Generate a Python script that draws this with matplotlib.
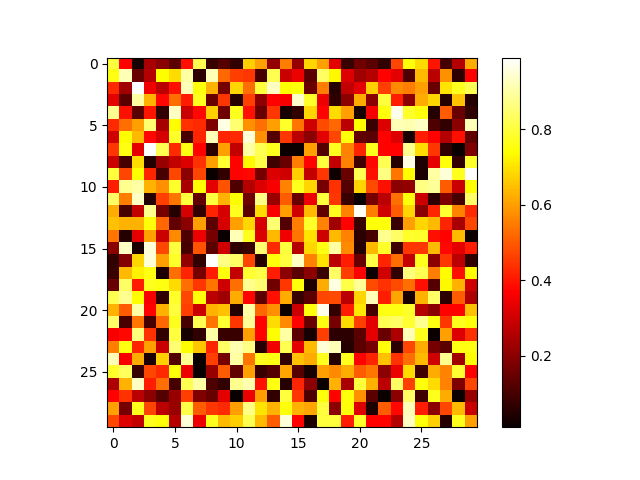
import matplotlib
matplotlib.use("Agg")
import matplotlib.pyplot as plt

# values, row by row
row00 = [.80,.37,.03,.24,.20,.13,.39,.82,.08,.12,.07,.67,.60,.21,.55,.22,.68,.60,.33,.08,.16,.13,.07,.47,.75,.69,.40,.10,.26,.62]
row01 = [.76,.92,.15,.26,.74,.69,.90,.06,.92,.52,.46,.45,.10,.82,.29,.34,.13,.84,.73,.32,.23,.26,.37,.33,.11,.64,.27,.58,.06,.37]
row02 = [.43,.23,.99,.35,.27,.39,.92,.75,.63,.17,.68,.53,.80,.93,.74,.75,.15,.55,.05,.28,.33,.67,.46,.57,.55,.60,.15,.70,.77,.82]
row03 = [.33,.13,.90,.63,.38,.53,.41,.77,.15,.45,.05,.46,.20,.37,.36,.94,.78,.34,.06,.20,.62,.20,.80,.41,.20,.62,.68,.05,.65,.05]
row04 = [.88,.39,.13,.40,.07,.93,.29,.38,.67,.16,.77,.39,.15,.45,.03,.07,.68,.37,.69,.60,.03,.36,.75,.97,.78,.75,.05,.50,.15,.07]
row05 = [.43,.53,.60,.85,.24,.74,.44,.43,.18,.96,.85,.58,.53,.60,.78,.54,.30,.48,.52,.27,.74,.08,.32,.92,.91,.93,.11,.07,.20,.92]
row06 = [.30,.74,.64,.38,.31,.78,.10,.42,.92,.42,.43,.95,.58,.12,.45,.27,.20,.33,.47,.75,.14,.13,.37,.32,.03,.41,.37,.26,.39,.14]
row07 = [.45,.76,.33,.99,.82,.43,.76,.37,.06,.60,.28,.90,.82,.77,.01,.01,.60,.12,.77,.56,.42,.77,.37,.37,.88,.69,.45,.07,.01,.18]
row08 = [.29,.10,.69,.05,.22,.28,.32,.44,.60,.79,.37,.73,.81,.09,.15,.55,.37,.80,.28,.56,.09,.38,.82,.05,.96,.04,.33,.75,.07,.78]
row09 = [.80,.47,.74,.42,.10,.47,.20,.47,.01,.07,.37,.38,.17,.32,.30,.67,.28,.45,.02,.15,.82,.39,.87,.54,.74,.04,.90,.95,.77,.99]
row10 = [.41,.88,.90,.63,.58,.78,.24,.74,.33,.49,.11,.26,.32,.36,.56,.77,.68,.17,.44,.12,.68,.48,.39,.20,.21,.87,.89,.50,.29,.74]
row11 = [.84,.55,.93,.05,.46,.54,.80,.14,.80,.63,.74,.16,.87,.22,.50,.15,.34,.80,.45,.08,.01,.17,.27,.53,.75,.29,.06,.18,.10,.84]
row12 = [.62,.10,.28,.88,.17,.05,.31,.07,.42,.31,.77,.13,.69,.36,.60,.30,.64,.14,.77,.56,.98,.55,.30,.50,.68,.20,.42,.79,.56,.43]
row13 = [.65,.63,.63,.75,.52,.14,.20,.60,.13,.31,.60,.68,.31,.85,.12,.55,.78,.56,.23,.37,.08,.75,.75,.08,.60,.68,.64,.42,.24,.47]
row14 = [.54,.05,.33,.60,.29,.57,.11,.34,.17,.01,.92,.77,.32,.64,.35,.54,.70,.30,.64,.56,.06,.10,.88,.84,.78,.78,.39,.37,.64,.01]
row15 = [.20,.93,.04,.95,.47,.80,.10,.49,.13,.30,.06,.08,.85,.43,.80,.26,.68,.76,.90,.57,.05,.64,.78,.09,.45,.45,.64,.38,.33,.41]
row16 = [.07,.19,.68,.95,.60,.78,.21,.07,.99,.87,.84,.47,.05,.75,.80,.93,.56,.70,.27,.41,.15,.81,.42,.53,.28,.77,.20,.45,.27,.07]
row17 = [.08,.64,.72,.76,.04,.53,.42,.17,.41,.75,.28,.79,.81,.41,.20,.13,.20,.08,.84,.46,.37,.02,.30,.07,.86,.82,.55,.74,.39,.74]
row18 = [.15,.84,.41,.77,.76,.69,.53,.45,.54,.30,.53,.88,.85,.16,.45,.75,.04,.62,.96,.81,.89,.48,.44,.48,.53,.39,.12,.73,.63,.30]
row19 = [.82,.88,.74,.36,.07,.78,.47,.75,.27,.23,.62,.37,.13,.39,.62,.08,.13,.47,.48,.27,.68,.92,.41,.61,.03,.63,.84,.06,.50,.25]
row20 = [.63,.50,.90,.37,.63,.80,.46,.29,.63,.65,.05,.90,.52,.58,.01,.29,.75,.97,.07,.41,.71,.10,.76,.76,.78,.26,.20,.37,.37,.65]
row21 = [.84,.10,.54,.10,.52,.77,.10,.82,.54,.79,.45,.89,.37,.69,.57,.37,.15,.76,.17,.69,.46,.33,.82,.84,.79,.88,.76,.45,.77,.75]
row22 = [.36,.38,.86,.44,.07,.80,.03,.07,.90,.08,.08,.60,.37,.74,.90,.13,.03,.46,.06,.06,.13,.33,.15,.25,.92,.77,.01,.60,.32,.44]
row23 = [.55,.76,.42,.60,.29,.85,.74,.66,.42,.84,.91,.87,.05,.35,.82,.33,.64,.95,.92,.05,.13,.17,.75,.06,.47,.62,.17,.13,.76,.76]
row24 = [.92,.36,.62,.04,.67,.12,.88,.01,.46,.17,.90,.54,.77,.76,.07,.65,.62,.77,.05,.77,.37,.42,.65,.44,.53,.64,.30,.88,.23,.74]
row25 = [.78,.83,.08,.47,.43,.75,.34,.01,.22,.50,.14,.60,.08,.12,.61,.12,.03,.60,.57,.62,.50,.54,.20,.34,.69,.09,.62,.56,.79,.37]
row26 = [.25,.63,.93,.41,.53,.10,.82,.90,.11,.07,.88,.91,.39,.76,.05,.42,.20,.01,.63,.24,.80,.63,.27,.84,.46,.75,.69,.56,.18,.47]
row27 = [.37,.44,.27,.20,.12,.22,.46,.18,.15,.33,.01,.34,.60,.07,.80,.45,.11,.75,.37,.75,.58,.13,.01,.20,.84,.09,.77,.62,.01,.22]
row28 = [.60,.17,.77,.47,.27,.22,.81,.50,.45,.43,.60,.87,.70,.63,.75,.63,.61,.80,.20,.75,.32,.04,.50,.38,.92,.41,.20,.47,.64,.29]
row29 = [.47,.32,.28,.77,.75,.26,.95,.34,.77,.64,.67,.82,.64,.50,.95,.37,.04,.80,.80,.41,.78,.37,.37,.26,.93,.75,.67,.05,.77,.60]

data = [row00, row01, row02, row03, row04, row05, row06, row07, row08, row09,
        row10, row11, row12, row13, row14, row15, row16, row17, row18, row19,
        row20, row21, row22, row23, row24, row25, row26, row27, row28, row29]

plt.imshow(data, cmap="hot", interpolation="nearest")
plt.colorbar()
plt.savefig("out.png", dpi=100)
